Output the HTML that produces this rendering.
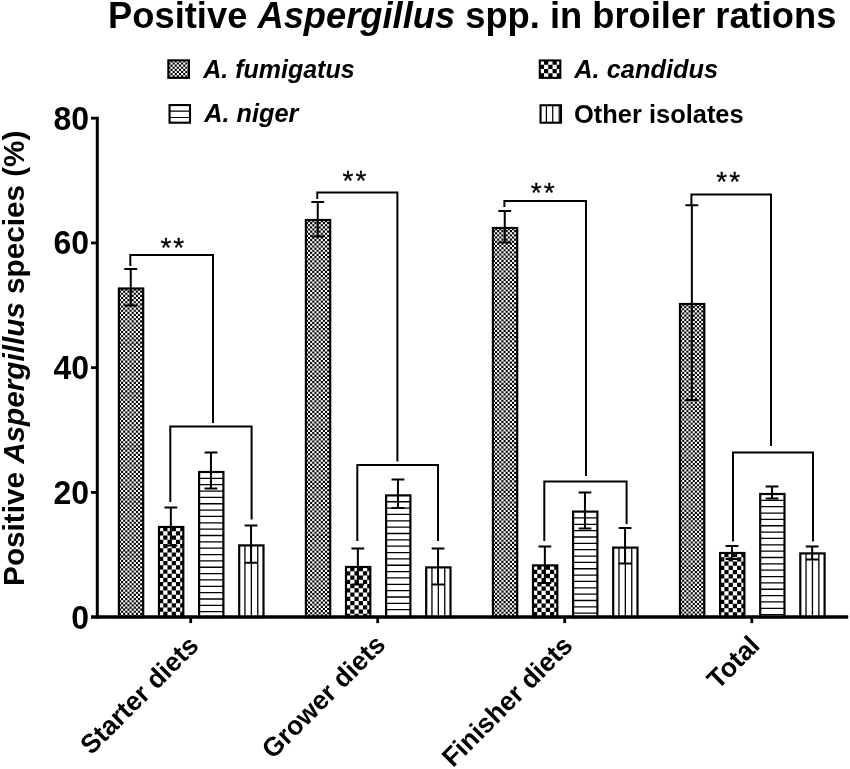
<!DOCTYPE html>
<html><head><meta charset="utf-8"><title>Positive Aspergillus spp. in broiler rations</title>
<style>
html,body{margin:0;padding:0;background:#fff;}
body{width:850px;height:769px;overflow:hidden;font-family:"Liberation Sans",sans-serif;}
svg{display:block;font-family:"Liberation Sans",sans-serif;will-change:transform;}
text{fill:#000;}
</style></head><body>
<svg width="850" height="769" viewBox="0 0 850 769">
<rect width="850" height="769" fill="#fff"/>
<clipPath id="c1"><rect x="118.9" y="288.5" width="24.3" height="328.65"/></clipPath><g clip-path="url(#c1)" stroke="#000" stroke-width="2.14" fill="none" stroke-dasharray="2.12 2.12"><path stroke-dashoffset="2.12" d="M118.9 289.56H145.32M118.9 293.8H145.32M118.9 298.04H145.32M118.9 302.28H145.32M118.9 306.52H145.32M118.9 310.76H145.32M118.9 315H145.32M118.9 319.24H145.32M118.9 323.48H145.32M118.9 327.72H145.32M118.9 331.96H145.32M118.9 336.2H145.32M118.9 340.44H145.32M118.9 344.68H145.32M118.9 348.92H145.32M118.9 353.16H145.32M118.9 357.4H145.32M118.9 361.64H145.32M118.9 365.88H145.32M118.9 370.12H145.32M118.9 374.36H145.32M118.9 378.6H145.32M118.9 382.84H145.32M118.9 387.08H145.32M118.9 391.32H145.32M118.9 395.56H145.32M118.9 399.8H145.32M118.9 404.04H145.32M118.9 408.28H145.32M118.9 412.52H145.32M118.9 416.76H145.32M118.9 421H145.32M118.9 425.24H145.32M118.9 429.48H145.32M118.9 433.72H145.32M118.9 437.96H145.32M118.9 442.2H145.32M118.9 446.44H145.32M118.9 450.68H145.32M118.9 454.92H145.32M118.9 459.16H145.32M118.9 463.4H145.32M118.9 467.64H145.32M118.9 471.88H145.32M118.9 476.12H145.32M118.9 480.36H145.32M118.9 484.6H145.32M118.9 488.84H145.32M118.9 493.08H145.32M118.9 497.32H145.32M118.9 501.56H145.32M118.9 505.8H145.32M118.9 510.04H145.32M118.9 514.28H145.32M118.9 518.52H145.32M118.9 522.76H145.32M118.9 527H145.32M118.9 531.24H145.32M118.9 535.48H145.32M118.9 539.72H145.32M118.9 543.96H145.32M118.9 548.2H145.32M118.9 552.44H145.32M118.9 556.68H145.32M118.9 560.92H145.32M118.9 565.16H145.32M118.9 569.4H145.32M118.9 573.64H145.32M118.9 577.88H145.32M118.9 582.12H145.32M118.9 586.36H145.32M118.9 590.6H145.32M118.9 594.84H145.32M118.9 599.08H145.32M118.9 603.32H145.32M118.9 607.56H145.32M118.9 611.8H145.32M118.9 616.04H145.32"/><path d="M118.9 291.68H145.32M118.9 295.92H145.32M118.9 300.16H145.32M118.9 304.4H145.32M118.9 308.64H145.32M118.9 312.88H145.32M118.9 317.12H145.32M118.9 321.36H145.32M118.9 325.6H145.32M118.9 329.84H145.32M118.9 334.08H145.32M118.9 338.32H145.32M118.9 342.56H145.32M118.9 346.8H145.32M118.9 351.04H145.32M118.9 355.28H145.32M118.9 359.52H145.32M118.9 363.76H145.32M118.9 368H145.32M118.9 372.24H145.32M118.9 376.48H145.32M118.9 380.72H145.32M118.9 384.96H145.32M118.9 389.2H145.32M118.9 393.44H145.32M118.9 397.68H145.32M118.9 401.92H145.32M118.9 406.16H145.32M118.9 410.4H145.32M118.9 414.64H145.32M118.9 418.88H145.32M118.9 423.12H145.32M118.9 427.36H145.32M118.9 431.6H145.32M118.9 435.84H145.32M118.9 440.08H145.32M118.9 444.32H145.32M118.9 448.56H145.32M118.9 452.8H145.32M118.9 457.04H145.32M118.9 461.28H145.32M118.9 465.52H145.32M118.9 469.76H145.32M118.9 474H145.32M118.9 478.24H145.32M118.9 482.48H145.32M118.9 486.72H145.32M118.9 490.96H145.32M118.9 495.2H145.32M118.9 499.44H145.32M118.9 503.68H145.32M118.9 507.92H145.32M118.9 512.16H145.32M118.9 516.4H145.32M118.9 520.64H145.32M118.9 524.88H145.32M118.9 529.12H145.32M118.9 533.36H145.32M118.9 537.6H145.32M118.9 541.84H145.32M118.9 546.08H145.32M118.9 550.32H145.32M118.9 554.56H145.32M118.9 558.8H145.32M118.9 563.04H145.32M118.9 567.28H145.32M118.9 571.52H145.32M118.9 575.76H145.32M118.9 580H145.32M118.9 584.24H145.32M118.9 588.48H145.32M118.9 592.72H145.32M118.9 596.96H145.32M118.9 601.2H145.32M118.9 605.44H145.32M118.9 609.68H145.32M118.9 613.92H145.32M118.9 618.16H145.32"/></g>
<rect x="118.9" y="288.5" width="24.3" height="328.65" fill="none" stroke="#000" stroke-width="2.2"/>
<path d="M130.75 269.1V305.6M124.35 269.1H137.15M124.35 305.6H137.15" stroke="#000" stroke-width="2" fill="none"/>
<clipPath id="c2"><rect x="159" y="527" width="24.3" height="90.15"/></clipPath><g clip-path="url(#c2)" stroke="#000" stroke-width="4.26" fill="none" stroke-dasharray="4.24 4.24"><path stroke-dashoffset="4.24" d="M159 529.12H187.54M159 537.6H187.54M159 546.08H187.54M159 554.56H187.54M159 563.04H187.54M159 571.52H187.54M159 580H187.54M159 588.48H187.54M159 596.96H187.54M159 605.44H187.54M159 613.92H187.54"/><path d="M159 533.36H187.54M159 541.84H187.54M159 550.32H187.54M159 558.8H187.54M159 567.28H187.54M159 575.76H187.54M159 584.24H187.54M159 592.72H187.54M159 601.2H187.54M159 609.68H187.54M159 618.16H187.54"/></g>
<rect x="159" y="527" width="24.3" height="90.15" fill="none" stroke="#000" stroke-width="2.2"/>
<path d="M170.85 507.6V545.5M164.45 507.6H177.25M164.45 545.5H177.25" stroke="#000" stroke-width="2" fill="none"/>
<path d="M199.1 478.35H223.4M199.1 484.7H223.4M199.1 491.05H223.4M199.1 497.4H223.4M199.1 503.75H223.4M199.1 510.1H223.4M199.1 516.45H223.4M199.1 522.8H223.4M199.1 529.15H223.4M199.1 535.5H223.4M199.1 541.85H223.4M199.1 548.2H223.4M199.1 554.55H223.4M199.1 560.9H223.4M199.1 567.25H223.4M199.1 573.6H223.4M199.1 579.95H223.4M199.1 586.3H223.4M199.1 592.65H223.4M199.1 599H223.4M199.1 605.35H223.4M199.1 611.7H223.4" stroke="#000" stroke-width="1.3" fill="none"/>
<rect x="199.1" y="472" width="24.3" height="145.15" fill="none" stroke="#000" stroke-width="2.2"/>
<path d="M210.95 452.4V488.6M204.55 452.4H217.35M204.55 488.6H217.35" stroke="#000" stroke-width="2" fill="none"/>
<path d="M244.95 545.4V617.15M251.35 545.4V617.15M257.75 545.4V617.15" stroke="#000" stroke-width="1.3" fill="none"/>
<rect x="239.2" y="545.4" width="24.3" height="71.75" fill="none" stroke="#000" stroke-width="2.2"/>
<path d="M251.05 525.6V562.8M244.65 525.6H257.45M244.65 562.8H257.45" stroke="#000" stroke-width="2" fill="none"/>
<clipPath id="c3"><rect x="305.9" y="220" width="24.3" height="397.15"/></clipPath><g clip-path="url(#c3)" stroke="#000" stroke-width="2.14" fill="none" stroke-dasharray="2.12 2.12"><path stroke-dashoffset="2.12" d="M305.9 221.06H332.32M305.9 225.3H332.32M305.9 229.54H332.32M305.9 233.78H332.32M305.9 238.02H332.32M305.9 242.26H332.32M305.9 246.5H332.32M305.9 250.74H332.32M305.9 254.98H332.32M305.9 259.22H332.32M305.9 263.46H332.32M305.9 267.7H332.32M305.9 271.94H332.32M305.9 276.18H332.32M305.9 280.42H332.32M305.9 284.66H332.32M305.9 288.9H332.32M305.9 293.14H332.32M305.9 297.38H332.32M305.9 301.62H332.32M305.9 305.86H332.32M305.9 310.1H332.32M305.9 314.34H332.32M305.9 318.58H332.32M305.9 322.82H332.32M305.9 327.06H332.32M305.9 331.3H332.32M305.9 335.54H332.32M305.9 339.78H332.32M305.9 344.02H332.32M305.9 348.26H332.32M305.9 352.5H332.32M305.9 356.74H332.32M305.9 360.98H332.32M305.9 365.22H332.32M305.9 369.46H332.32M305.9 373.7H332.32M305.9 377.94H332.32M305.9 382.18H332.32M305.9 386.42H332.32M305.9 390.66H332.32M305.9 394.9H332.32M305.9 399.14H332.32M305.9 403.38H332.32M305.9 407.62H332.32M305.9 411.86H332.32M305.9 416.1H332.32M305.9 420.34H332.32M305.9 424.58H332.32M305.9 428.82H332.32M305.9 433.06H332.32M305.9 437.3H332.32M305.9 441.54H332.32M305.9 445.78H332.32M305.9 450.02H332.32M305.9 454.26H332.32M305.9 458.5H332.32M305.9 462.74H332.32M305.9 466.98H332.32M305.9 471.22H332.32M305.9 475.46H332.32M305.9 479.7H332.32M305.9 483.94H332.32M305.9 488.18H332.32M305.9 492.42H332.32M305.9 496.66H332.32M305.9 500.9H332.32M305.9 505.14H332.32M305.9 509.38H332.32M305.9 513.62H332.32M305.9 517.86H332.32M305.9 522.1H332.32M305.9 526.34H332.32M305.9 530.58H332.32M305.9 534.82H332.32M305.9 539.06H332.32M305.9 543.3H332.32M305.9 547.54H332.32M305.9 551.78H332.32M305.9 556.02H332.32M305.9 560.26H332.32M305.9 564.5H332.32M305.9 568.74H332.32M305.9 572.98H332.32M305.9 577.22H332.32M305.9 581.46H332.32M305.9 585.7H332.32M305.9 589.94H332.32M305.9 594.18H332.32M305.9 598.42H332.32M305.9 602.66H332.32M305.9 606.9H332.32M305.9 611.14H332.32M305.9 615.38H332.32"/><path d="M305.9 223.18H332.32M305.9 227.42H332.32M305.9 231.66H332.32M305.9 235.9H332.32M305.9 240.14H332.32M305.9 244.38H332.32M305.9 248.62H332.32M305.9 252.86H332.32M305.9 257.1H332.32M305.9 261.34H332.32M305.9 265.58H332.32M305.9 269.82H332.32M305.9 274.06H332.32M305.9 278.3H332.32M305.9 282.54H332.32M305.9 286.78H332.32M305.9 291.02H332.32M305.9 295.26H332.32M305.9 299.5H332.32M305.9 303.74H332.32M305.9 307.98H332.32M305.9 312.22H332.32M305.9 316.46H332.32M305.9 320.7H332.32M305.9 324.94H332.32M305.9 329.18H332.32M305.9 333.42H332.32M305.9 337.66H332.32M305.9 341.9H332.32M305.9 346.14H332.32M305.9 350.38H332.32M305.9 354.62H332.32M305.9 358.86H332.32M305.9 363.1H332.32M305.9 367.34H332.32M305.9 371.58H332.32M305.9 375.82H332.32M305.9 380.06H332.32M305.9 384.3H332.32M305.9 388.54H332.32M305.9 392.78H332.32M305.9 397.02H332.32M305.9 401.26H332.32M305.9 405.5H332.32M305.9 409.74H332.32M305.9 413.98H332.32M305.9 418.22H332.32M305.9 422.46H332.32M305.9 426.7H332.32M305.9 430.94H332.32M305.9 435.18H332.32M305.9 439.42H332.32M305.9 443.66H332.32M305.9 447.9H332.32M305.9 452.14H332.32M305.9 456.38H332.32M305.9 460.62H332.32M305.9 464.86H332.32M305.9 469.1H332.32M305.9 473.34H332.32M305.9 477.58H332.32M305.9 481.82H332.32M305.9 486.06H332.32M305.9 490.3H332.32M305.9 494.54H332.32M305.9 498.78H332.32M305.9 503.02H332.32M305.9 507.26H332.32M305.9 511.5H332.32M305.9 515.74H332.32M305.9 519.98H332.32M305.9 524.22H332.32M305.9 528.46H332.32M305.9 532.7H332.32M305.9 536.94H332.32M305.9 541.18H332.32M305.9 545.42H332.32M305.9 549.66H332.32M305.9 553.9H332.32M305.9 558.14H332.32M305.9 562.38H332.32M305.9 566.62H332.32M305.9 570.86H332.32M305.9 575.1H332.32M305.9 579.34H332.32M305.9 583.58H332.32M305.9 587.82H332.32M305.9 592.06H332.32M305.9 596.3H332.32M305.9 600.54H332.32M305.9 604.78H332.32M305.9 609.02H332.32M305.9 613.26H332.32M305.9 617.5H332.32"/></g>
<rect x="305.9" y="220" width="24.3" height="397.15" fill="none" stroke="#000" stroke-width="2.2"/>
<path d="M317.75 202V236.6M311.35 202H324.15M311.35 236.6H324.15" stroke="#000" stroke-width="2" fill="none"/>
<clipPath id="c4"><rect x="346" y="567" width="24.3" height="50.15"/></clipPath><g clip-path="url(#c4)" stroke="#000" stroke-width="4.26" fill="none" stroke-dasharray="4.24 4.24"><path stroke-dashoffset="4.24" d="M346 569.12H374.54M346 577.6H374.54M346 586.08H374.54M346 594.56H374.54M346 603.04H374.54M346 611.52H374.54"/><path d="M346 573.36H374.54M346 581.84H374.54M346 590.32H374.54M346 598.8H374.54M346 607.28H374.54M346 615.76H374.54"/></g>
<rect x="346" y="567" width="24.3" height="50.15" fill="none" stroke="#000" stroke-width="2.2"/>
<path d="M357.85 548.4V584.5M351.45 548.4H364.25M351.45 584.5H364.25" stroke="#000" stroke-width="2" fill="none"/>
<path d="M386.1 501.75H410.4M386.1 508.1H410.4M386.1 514.45H410.4M386.1 520.8H410.4M386.1 527.15H410.4M386.1 533.5H410.4M386.1 539.85H410.4M386.1 546.2H410.4M386.1 552.55H410.4M386.1 558.9H410.4M386.1 565.25H410.4M386.1 571.6H410.4M386.1 577.95H410.4M386.1 584.3H410.4M386.1 590.65H410.4M386.1 597H410.4M386.1 603.35H410.4M386.1 609.7H410.4" stroke="#000" stroke-width="1.3" fill="none"/>
<rect x="386.1" y="495.4" width="24.3" height="121.75" fill="none" stroke="#000" stroke-width="2.2"/>
<path d="M397.95 479.4V508M391.55 479.4H404.35M391.55 508H404.35" stroke="#000" stroke-width="2" fill="none"/>
<path d="M431.95 567.4V617.15M438.35 567.4V617.15M444.75 567.4V617.15" stroke="#000" stroke-width="1.3" fill="none"/>
<rect x="426.2" y="567.4" width="24.3" height="49.75" fill="none" stroke="#000" stroke-width="2.2"/>
<path d="M438.05 548.4V584.5M431.65 548.4H444.45M431.65 584.5H444.45" stroke="#000" stroke-width="2" fill="none"/>
<clipPath id="c5"><rect x="492.9" y="228" width="24.3" height="389.15"/></clipPath><g clip-path="url(#c5)" stroke="#000" stroke-width="2.14" fill="none" stroke-dasharray="2.12 2.12"><path stroke-dashoffset="2.12" d="M492.9 229.06H519.32M492.9 233.3H519.32M492.9 237.54H519.32M492.9 241.78H519.32M492.9 246.02H519.32M492.9 250.26H519.32M492.9 254.5H519.32M492.9 258.74H519.32M492.9 262.98H519.32M492.9 267.22H519.32M492.9 271.46H519.32M492.9 275.7H519.32M492.9 279.94H519.32M492.9 284.18H519.32M492.9 288.42H519.32M492.9 292.66H519.32M492.9 296.9H519.32M492.9 301.14H519.32M492.9 305.38H519.32M492.9 309.62H519.32M492.9 313.86H519.32M492.9 318.1H519.32M492.9 322.34H519.32M492.9 326.58H519.32M492.9 330.82H519.32M492.9 335.06H519.32M492.9 339.3H519.32M492.9 343.54H519.32M492.9 347.78H519.32M492.9 352.02H519.32M492.9 356.26H519.32M492.9 360.5H519.32M492.9 364.74H519.32M492.9 368.98H519.32M492.9 373.22H519.32M492.9 377.46H519.32M492.9 381.7H519.32M492.9 385.94H519.32M492.9 390.18H519.32M492.9 394.42H519.32M492.9 398.66H519.32M492.9 402.9H519.32M492.9 407.14H519.32M492.9 411.38H519.32M492.9 415.62H519.32M492.9 419.86H519.32M492.9 424.1H519.32M492.9 428.34H519.32M492.9 432.58H519.32M492.9 436.82H519.32M492.9 441.06H519.32M492.9 445.3H519.32M492.9 449.54H519.32M492.9 453.78H519.32M492.9 458.02H519.32M492.9 462.26H519.32M492.9 466.5H519.32M492.9 470.74H519.32M492.9 474.98H519.32M492.9 479.22H519.32M492.9 483.46H519.32M492.9 487.7H519.32M492.9 491.94H519.32M492.9 496.18H519.32M492.9 500.42H519.32M492.9 504.66H519.32M492.9 508.9H519.32M492.9 513.14H519.32M492.9 517.38H519.32M492.9 521.62H519.32M492.9 525.86H519.32M492.9 530.1H519.32M492.9 534.34H519.32M492.9 538.58H519.32M492.9 542.82H519.32M492.9 547.06H519.32M492.9 551.3H519.32M492.9 555.54H519.32M492.9 559.78H519.32M492.9 564.02H519.32M492.9 568.26H519.32M492.9 572.5H519.32M492.9 576.74H519.32M492.9 580.98H519.32M492.9 585.22H519.32M492.9 589.46H519.32M492.9 593.7H519.32M492.9 597.94H519.32M492.9 602.18H519.32M492.9 606.42H519.32M492.9 610.66H519.32M492.9 614.9H519.32"/><path d="M492.9 231.18H519.32M492.9 235.42H519.32M492.9 239.66H519.32M492.9 243.9H519.32M492.9 248.14H519.32M492.9 252.38H519.32M492.9 256.62H519.32M492.9 260.86H519.32M492.9 265.1H519.32M492.9 269.34H519.32M492.9 273.58H519.32M492.9 277.82H519.32M492.9 282.06H519.32M492.9 286.3H519.32M492.9 290.54H519.32M492.9 294.78H519.32M492.9 299.02H519.32M492.9 303.26H519.32M492.9 307.5H519.32M492.9 311.74H519.32M492.9 315.98H519.32M492.9 320.22H519.32M492.9 324.46H519.32M492.9 328.7H519.32M492.9 332.94H519.32M492.9 337.18H519.32M492.9 341.42H519.32M492.9 345.66H519.32M492.9 349.9H519.32M492.9 354.14H519.32M492.9 358.38H519.32M492.9 362.62H519.32M492.9 366.86H519.32M492.9 371.1H519.32M492.9 375.34H519.32M492.9 379.58H519.32M492.9 383.82H519.32M492.9 388.06H519.32M492.9 392.3H519.32M492.9 396.54H519.32M492.9 400.78H519.32M492.9 405.02H519.32M492.9 409.26H519.32M492.9 413.5H519.32M492.9 417.74H519.32M492.9 421.98H519.32M492.9 426.22H519.32M492.9 430.46H519.32M492.9 434.7H519.32M492.9 438.94H519.32M492.9 443.18H519.32M492.9 447.42H519.32M492.9 451.66H519.32M492.9 455.9H519.32M492.9 460.14H519.32M492.9 464.38H519.32M492.9 468.62H519.32M492.9 472.86H519.32M492.9 477.1H519.32M492.9 481.34H519.32M492.9 485.58H519.32M492.9 489.82H519.32M492.9 494.06H519.32M492.9 498.3H519.32M492.9 502.54H519.32M492.9 506.78H519.32M492.9 511.02H519.32M492.9 515.26H519.32M492.9 519.5H519.32M492.9 523.74H519.32M492.9 527.98H519.32M492.9 532.22H519.32M492.9 536.46H519.32M492.9 540.7H519.32M492.9 544.94H519.32M492.9 549.18H519.32M492.9 553.42H519.32M492.9 557.66H519.32M492.9 561.9H519.32M492.9 566.14H519.32M492.9 570.38H519.32M492.9 574.62H519.32M492.9 578.86H519.32M492.9 583.1H519.32M492.9 587.34H519.32M492.9 591.58H519.32M492.9 595.82H519.32M492.9 600.06H519.32M492.9 604.3H519.32M492.9 608.54H519.32M492.9 612.78H519.32M492.9 617.02H519.32"/></g>
<rect x="492.9" y="228" width="24.3" height="389.15" fill="none" stroke="#000" stroke-width="2.2"/>
<path d="M504.75 211V242.4M498.35 211H511.15M498.35 242.4H511.15" stroke="#000" stroke-width="2" fill="none"/>
<clipPath id="c6"><rect x="533" y="565.4" width="24.3" height="51.75"/></clipPath><g clip-path="url(#c6)" stroke="#000" stroke-width="4.26" fill="none" stroke-dasharray="4.24 4.24"><path stroke-dashoffset="4.24" d="M533 567.52H561.54M533 576H561.54M533 584.48H561.54M533 592.96H561.54M533 601.44H561.54M533 609.92H561.54M533 618.4H561.54"/><path d="M533 571.76H561.54M533 580.24H561.54M533 588.72H561.54M533 597.2H561.54M533 605.68H561.54M533 614.16H561.54"/></g>
<rect x="533" y="565.4" width="24.3" height="51.75" fill="none" stroke="#000" stroke-width="2.2"/>
<path d="M544.85 546.4V583M538.45 546.4H551.25M538.45 583H551.25" stroke="#000" stroke-width="2" fill="none"/>
<path d="M573.1 517.95H597.4M573.1 524.3H597.4M573.1 530.65H597.4M573.1 537H597.4M573.1 543.35H597.4M573.1 549.7H597.4M573.1 556.05H597.4M573.1 562.4H597.4M573.1 568.75H597.4M573.1 575.1H597.4M573.1 581.45H597.4M573.1 587.8H597.4M573.1 594.15H597.4M573.1 600.5H597.4M573.1 606.85H597.4M573.1 613.2H597.4" stroke="#000" stroke-width="1.3" fill="none"/>
<rect x="573.1" y="511.6" width="24.3" height="105.55" fill="none" stroke="#000" stroke-width="2.2"/>
<path d="M584.95 492.6V528.4M578.55 492.6H591.35M578.55 528.4H591.35" stroke="#000" stroke-width="2" fill="none"/>
<path d="M618.95 547.6V617.15M625.35 547.6V617.15M631.75 547.6V617.15" stroke="#000" stroke-width="1.3" fill="none"/>
<rect x="613.2" y="547.6" width="24.3" height="69.55" fill="none" stroke="#000" stroke-width="2.2"/>
<path d="M625.05 528V563.6M618.65 528H631.45M618.65 563.6H631.45" stroke="#000" stroke-width="2" fill="none"/>
<clipPath id="c7"><rect x="680" y="304" width="24.3" height="313.15"/></clipPath><g clip-path="url(#c7)" stroke="#000" stroke-width="2.14" fill="none" stroke-dasharray="2.12 2.12"><path stroke-dashoffset="2.12" d="M680 305.06H706.42M680 309.3H706.42M680 313.54H706.42M680 317.78H706.42M680 322.02H706.42M680 326.26H706.42M680 330.5H706.42M680 334.74H706.42M680 338.98H706.42M680 343.22H706.42M680 347.46H706.42M680 351.7H706.42M680 355.94H706.42M680 360.18H706.42M680 364.42H706.42M680 368.66H706.42M680 372.9H706.42M680 377.14H706.42M680 381.38H706.42M680 385.62H706.42M680 389.86H706.42M680 394.1H706.42M680 398.34H706.42M680 402.58H706.42M680 406.82H706.42M680 411.06H706.42M680 415.3H706.42M680 419.54H706.42M680 423.78H706.42M680 428.02H706.42M680 432.26H706.42M680 436.5H706.42M680 440.74H706.42M680 444.98H706.42M680 449.22H706.42M680 453.46H706.42M680 457.7H706.42M680 461.94H706.42M680 466.18H706.42M680 470.42H706.42M680 474.66H706.42M680 478.9H706.42M680 483.14H706.42M680 487.38H706.42M680 491.62H706.42M680 495.86H706.42M680 500.1H706.42M680 504.34H706.42M680 508.58H706.42M680 512.82H706.42M680 517.06H706.42M680 521.3H706.42M680 525.54H706.42M680 529.78H706.42M680 534.02H706.42M680 538.26H706.42M680 542.5H706.42M680 546.74H706.42M680 550.98H706.42M680 555.22H706.42M680 559.46H706.42M680 563.7H706.42M680 567.94H706.42M680 572.18H706.42M680 576.42H706.42M680 580.66H706.42M680 584.9H706.42M680 589.14H706.42M680 593.38H706.42M680 597.62H706.42M680 601.86H706.42M680 606.1H706.42M680 610.34H706.42M680 614.58H706.42"/><path d="M680 307.18H706.42M680 311.42H706.42M680 315.66H706.42M680 319.9H706.42M680 324.14H706.42M680 328.38H706.42M680 332.62H706.42M680 336.86H706.42M680 341.1H706.42M680 345.34H706.42M680 349.58H706.42M680 353.82H706.42M680 358.06H706.42M680 362.3H706.42M680 366.54H706.42M680 370.78H706.42M680 375.02H706.42M680 379.26H706.42M680 383.5H706.42M680 387.74H706.42M680 391.98H706.42M680 396.22H706.42M680 400.46H706.42M680 404.7H706.42M680 408.94H706.42M680 413.18H706.42M680 417.42H706.42M680 421.66H706.42M680 425.9H706.42M680 430.14H706.42M680 434.38H706.42M680 438.62H706.42M680 442.86H706.42M680 447.1H706.42M680 451.34H706.42M680 455.58H706.42M680 459.82H706.42M680 464.06H706.42M680 468.3H706.42M680 472.54H706.42M680 476.78H706.42M680 481.02H706.42M680 485.26H706.42M680 489.5H706.42M680 493.74H706.42M680 497.98H706.42M680 502.22H706.42M680 506.46H706.42M680 510.7H706.42M680 514.94H706.42M680 519.18H706.42M680 523.42H706.42M680 527.66H706.42M680 531.9H706.42M680 536.14H706.42M680 540.38H706.42M680 544.62H706.42M680 548.86H706.42M680 553.1H706.42M680 557.34H706.42M680 561.58H706.42M680 565.82H706.42M680 570.06H706.42M680 574.3H706.42M680 578.54H706.42M680 582.78H706.42M680 587.02H706.42M680 591.26H706.42M680 595.5H706.42M680 599.74H706.42M680 603.98H706.42M680 608.22H706.42M680 612.46H706.42M680 616.7H706.42"/></g>
<rect x="680" y="304" width="24.3" height="313.15" fill="none" stroke="#000" stroke-width="2.2"/>
<path d="M691.85 205.2V400M685.45 205.2H698.25M685.45 400H698.25" stroke="#000" stroke-width="2" fill="none"/>
<clipPath id="c8"><rect x="720.1" y="553" width="24.3" height="64.15"/></clipPath><g clip-path="url(#c8)" stroke="#000" stroke-width="4.26" fill="none" stroke-dasharray="4.24 4.24"><path stroke-dashoffset="4.24" d="M720.1 555.12H748.64M720.1 563.6H748.64M720.1 572.08H748.64M720.1 580.56H748.64M720.1 589.04H748.64M720.1 597.52H748.64M720.1 606H748.64M720.1 614.48H748.64"/><path d="M720.1 559.36H748.64M720.1 567.84H748.64M720.1 576.32H748.64M720.1 584.8H748.64M720.1 593.28H748.64M720.1 601.76H748.64M720.1 610.24H748.64M720.1 618.72H748.64"/></g>
<rect x="720.1" y="553" width="24.3" height="64.15" fill="none" stroke="#000" stroke-width="2.2"/>
<path d="M731.95 546V559M725.55 546H738.35M725.55 559H738.35" stroke="#000" stroke-width="2" fill="none"/>
<path d="M760.2 500.35H784.5M760.2 506.7H784.5M760.2 513.05H784.5M760.2 519.4H784.5M760.2 525.75H784.5M760.2 532.1H784.5M760.2 538.45H784.5M760.2 544.8H784.5M760.2 551.15H784.5M760.2 557.5H784.5M760.2 563.85H784.5M760.2 570.2H784.5M760.2 576.55H784.5M760.2 582.9H784.5M760.2 589.25H784.5M760.2 595.6H784.5M760.2 601.95H784.5M760.2 608.3H784.5M760.2 614.65H784.5" stroke="#000" stroke-width="1.3" fill="none"/>
<rect x="760.2" y="494" width="24.3" height="123.15" fill="none" stroke="#000" stroke-width="2.2"/>
<path d="M772.05 486.4V498.6M765.65 486.4H778.45M765.65 498.6H778.45" stroke="#000" stroke-width="2" fill="none"/>
<path d="M806.05 553.4V617.15M812.45 553.4V617.15M818.85 553.4V617.15" stroke="#000" stroke-width="1.3" fill="none"/>
<rect x="800.3" y="553.4" width="24.3" height="63.75" fill="none" stroke="#000" stroke-width="2.2"/>
<path d="M812.15 546.4V559.4M805.75 546.4H818.55M805.75 559.4H818.55" stroke="#000" stroke-width="2" fill="none"/>
<path d="M130.3 266V254.95H213V423M170.3 502V426.4H251.6V519.6" stroke="#000" stroke-width="2" fill="none" stroke-linejoin="miter"/>
<text x="160.4" y="257.34" font-size="28" letter-spacing="2.05" stroke="#000" stroke-width="0.3" stroke-linejoin="round">**</text>
<path d="M317.3 199V192.5H397.4V461.4M357.3 541V465H438V541" stroke="#000" stroke-width="2" fill="none" stroke-linejoin="miter"/>
<text x="342.5" y="190.44" font-size="28" letter-spacing="2.05" stroke="#000" stroke-width="0.3" stroke-linejoin="round">**</text>
<path d="M504.4 207V200.9H586V476M544.3 541V481.6H626.6V524" stroke="#000" stroke-width="2" fill="none" stroke-linejoin="miter"/>
<text x="530.7" y="202.1" font-size="28" letter-spacing="2.05" stroke="#000" stroke-width="0.3" stroke-linejoin="round">**</text>
<path d="M691.4 205V194.55H771V446M733 541.6V452.6H813V541.6" stroke="#000" stroke-width="2" fill="none" stroke-linejoin="miter"/>
<text x="716.2" y="191.44" font-size="28" letter-spacing="2.05" stroke="#000" stroke-width="0.3" stroke-linejoin="round">**</text>
<path d="M97.3 116.8V618.8" stroke="#000" stroke-width="3" fill="none"/>
<path d="M91 617H848.2" stroke="#000" stroke-width="3.4" fill="none"/>
<path d="M91 492.41H97" stroke="#000" stroke-width="2.8" fill="none"/>
<path d="M91 367.67H97" stroke="#000" stroke-width="2.8" fill="none"/>
<path d="M91 242.93H97" stroke="#000" stroke-width="2.8" fill="none"/>
<path d="M91 118.19H97" stroke="#000" stroke-width="2.8" fill="none"/>
<text transform="translate(89 628.5) scale(1.013 1.04)" font-size="31.6" font-weight="bold" text-anchor="end">0</text>
<text transform="translate(89 503.76) scale(1.013 1.04)" font-size="31.6" font-weight="bold" text-anchor="end">20</text>
<text transform="translate(89 379.02) scale(1.013 1.04)" font-size="31.6" font-weight="bold" text-anchor="end">40</text>
<text transform="translate(89 254.28) scale(1.013 1.04)" font-size="31.6" font-weight="bold" text-anchor="end">60</text>
<text transform="translate(89 129.54) scale(1.013 1.04)" font-size="31.6" font-weight="bold" text-anchor="end">80</text>
<path d="M190.7 617.15V623.1" stroke="#000" stroke-width="2.8" fill="none"/>
<text transform="translate(200.2 647)  rotate(-45) scale(1 1.01)" font-size="26.4" font-weight="bold" text-anchor="end">Starter diets</text>
<path d="M377.7 617.15V623.1" stroke="#000" stroke-width="2.8" fill="none"/>
<text transform="translate(386.8 646)  rotate(-45) scale(1 1.01)" font-size="26.4" font-weight="bold" text-anchor="end">Grower diets</text>
<path d="M564.7 617.15V623.1" stroke="#000" stroke-width="2.8" fill="none"/>
<text transform="translate(574.2 647)  rotate(-45) scale(1 1.01)" font-size="26.4" font-weight="bold" text-anchor="end">Finisher diets</text>
<path d="M751.8 617.15V623.1" stroke="#000" stroke-width="2.8" fill="none"/>
<text transform="translate(761.3 647)  rotate(-45) scale(1 1.01)" font-size="26.4" font-weight="bold" text-anchor="end">Total</text>
<text transform="translate(108.1 28.4) scale(1 1.015)" font-size="36.32" font-weight="bold">Positive <tspan font-style="italic">Aspergillus</tspan> spp. in broiler rations</text>
<text transform="translate(24.1 585.9) rotate(-90) scale(1 1.01)" font-size="29.7" font-weight="bold">Positive <tspan font-style="italic">Aspergillus</tspan> species (%)</text>
<clipPath id="c9"><rect x="168.35" y="60.35" width="20.6" height="17.5"/></clipPath><g clip-path="url(#c9)" stroke="#000" stroke-width="2.14" fill="none" stroke-dasharray="2.12 2.12"><path stroke-dashoffset="2.12" d="M168.35 61.41H191.07M168.35 65.65H191.07M168.35 69.89H191.07M168.35 74.13H191.07M168.35 78.37H191.07"/><path d="M168.35 63.53H191.07M168.35 67.77H191.07M168.35 72.01H191.07M168.35 76.25H191.07"/></g><rect x="168.35" y="60.35" width="20.6" height="17.5" fill="none" stroke="#000" stroke-width="2.1"/>
<text transform="translate(203.2 78) scale(1 1.024)" font-size="25" font-weight="bold" font-style="italic">A. fumigatus</text>
<path d="M169.55 111.2H190M169.55 117.5H190" stroke="#000" stroke-width="1.2"/><rect x="169.55" y="105.05" width="20.45" height="17.65" fill="none" stroke="#000" stroke-width="2.1"/>
<text transform="translate(204.2 121.7) scale(1 1.012)" font-size="25.3" font-weight="bold" font-style="italic">A. niger</text>
<clipPath id="c10"><rect x="539.8" y="60.45" width="20.5" height="17.4"/></clipPath><g clip-path="url(#c10)" stroke="#000" stroke-width="4.26" fill="none" stroke-dasharray="4.24 4.24"><path stroke-dashoffset="4.24" d="M539.8 62.57H564.54M539.8 71.05H564.54M539.8 79.53H564.54"/><path d="M539.8 66.81H564.54M539.8 75.29H564.54"/></g><rect x="539.8" y="60.45" width="20.5" height="17.4" fill="none" stroke="#000" stroke-width="2.1"/>
<text transform="translate(574.2 77.8) scale(1 1.012)" font-size="25.4" font-weight="bold" font-style="italic">A. candidus</text>
<path d="M546.4 105.2V122.7M552.7 105.2V122.7M559.2 105.2V122.7" stroke="#000" stroke-width="1.2"/><rect x="540.55" y="105.25" width="20.45" height="17.45" fill="none" stroke="#000" stroke-width="2.1"/>
<text transform="translate(574 123) scale(1 1.012)" font-size="25.45" font-weight="bold">Other isolates</text>
</svg>
</body></html>
